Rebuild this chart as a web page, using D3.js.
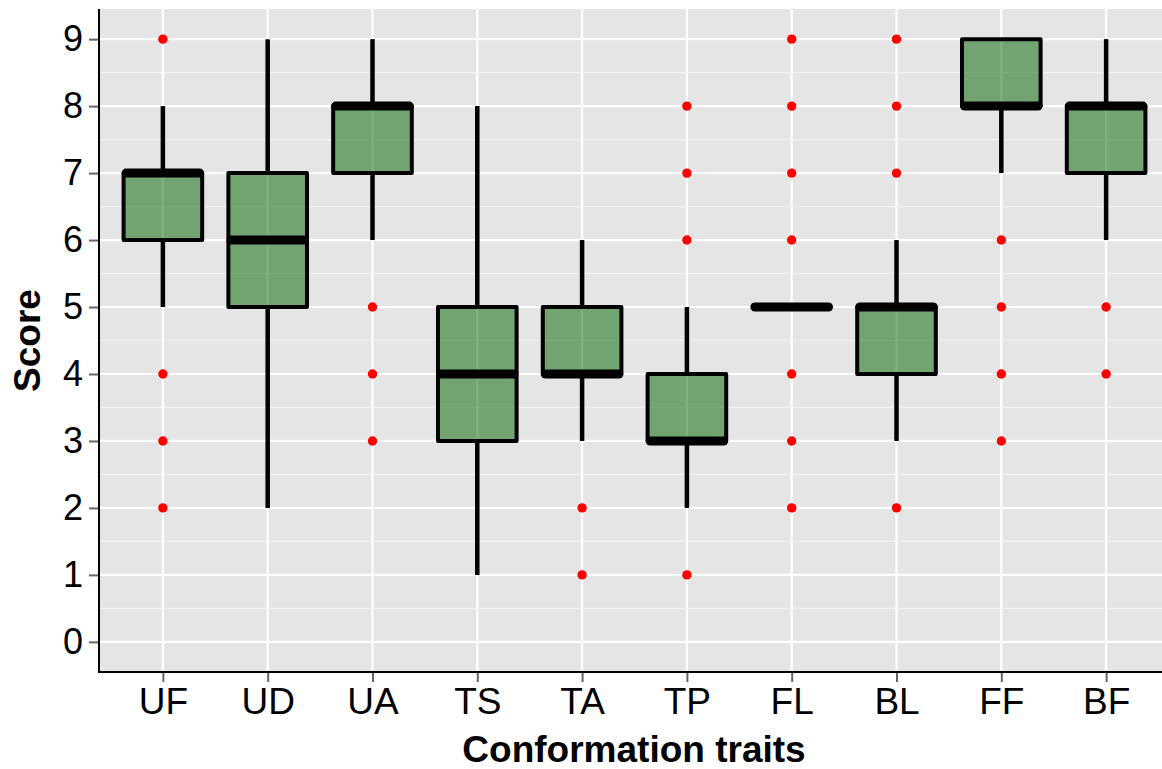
<!DOCTYPE html>
<html>
<head>
<meta charset="utf-8">
<script src="https://cdn.jsdelivr.net/npm/d3@7"></script>
<style>
  body { margin: 0; background: #fff; }
  svg { display: block; font-family: "Liberation Sans", Arial, sans-serif; }
</style>
</head>
<body>
<div id="chart"></div>
<script>
var w = 1162, h = 769;

// data
var traits   = ["UF", "UD", "UA", "TS", "TA", "TP", "FL", "BL", "FF", "BF"];
var lowWhisk = [5, 2, 6, 1, 3, 2, 5, 3, 7, 6];
var q1       = [6, 5, 7, 3, 4, 3, 5, 4, 8, 7];
var medians  = [7, 6, 8, 4, 4, 3, 5, 5, 8, 8];
var q3       = [7, 7, 8, 5, 5, 4, 5, 5, 9, 8];
var hiWhisk  = [8, 9, 9, 8, 6, 5, 5, 6, 9, 9];
var outliers = [
  [9, 4, 3, 2],
  [],
  [5, 4, 3],
  [],
  [2, 1],
  [8, 7, 6, 1],
  [9, 8, 7, 6, 4, 3, 2],
  [9, 8, 7, 2],
  [6, 5, 4, 3],
  [5, 4]
];
var yTicks = [0, 1, 2, 3, 4, 5, 6, 7, 8, 9];

var pLeft = 99, pTop = 9, pBottom = 672, pRight = 1169;

var x = d3.scalePoint().domain(traits).range([pLeft + 1, pRight]).padding(0.6);
var y = d3.scaleLinear().domain([-0.45, 9.45]).range([pBottom, pTop]);
var boxW = x.step() * 0.75;

var svg = d3.select("#chart").append("svg")
    .attr("width", w)
    .attr("height", h)

// panel
svg.append("rect")
    .attr("x", pLeft).attr("y", pTop)
    .attr("width", pRight - pLeft).attr("height", pBottom - pTop)
    .attr("fill", "#e5e5e5")

// minor grid
var minor = d3.range(-0.5, 9.6, 1).filter(function(d){ return y(d) <= pBottom && y(d) >= pTop; });
svg.selectAll(".minor").data(minor).enter().append("line")
    .attr("x1", pLeft).attr("x2", pRight)
    .attr("y1", function(d){ return y(d); })
    .attr("y2", function(d){ return y(d); })
    .attr("stroke", "#f2f2f2").attr("stroke-width", 1.2)

svg.selectAll(".hgrid").data(yTicks).enter().append("line")
    .attr("x1", pLeft).attr("x2", pRight)
    .attr("y1", function(d){ return y(d); })
    .attr("y2", function(d){ return y(d); })
    .attr("stroke", "#fff").attr("stroke-width", 2.2)

svg.selectAll(".vgrid").data(traits).enter().append("line")
    .attr("x1", function(d){ return x(d); })
    .attr("x2", function(d){ return x(d); })
    .attr("y1", pTop).attr("y2", pBottom)
    .attr("stroke", "#fff").attr("stroke-width", 2.2)

var rows = traits.map(function(t, i){
    return {t: t, lo: lowWhisk[i], q1: q1[i], med: medians[i], q3: q3[i], hi: hiWhisk[i], out: outliers[i]};
});

var g = svg.selectAll(".box").data(rows).enter().append("g")

// whiskers
g.append("line")
    .attr("x1", function(d){ return x(d.t); })
    .attr("x2", function(d){ return x(d.t); })
    .attr("y1", function(d){ return y(d.q3); })
    .attr("y2", function(d){ return y(d.hi); })
    .attr("stroke", "#000").attr("stroke-width", 4.5)
g.append("line")
    .attr("x1", function(d){ return x(d.t); })
    .attr("x2", function(d){ return x(d.t); })
    .attr("y1", function(d){ return y(d.q1); })
    .attr("y2", function(d){ return y(d.lo); })
    .attr("stroke", "#000").attr("stroke-width", 4.5)

// boxes
g.append("rect")
    .attr("x", function(d){ return x(d.t) - boxW / 2; })
    .attr("y", function(d){ return y(d.q3); })
    .attr("width", boxW)
    .attr("height", function(d){ return y(d.q1) - y(d.q3); })
    .attr("fill", "darkgreen").attr("fill-opacity", 0.5)
    .attr("stroke", "#000").attr("stroke-width", 4)
    .attr("stroke-linejoin", "round")

// medians
g.append("line")
    .attr("x1", function(d){ return x(d.t) - boxW / 2 + 2.5; })
    .attr("x2", function(d){ return x(d.t) + boxW / 2 - 2.5; })
    .attr("y1", function(d){ return y(d.med); })
    .attr("y2", function(d){ return y(d.med); })
    .attr("stroke", "#000").attr("stroke-width", 9)
    .attr("stroke-linecap", "round")

// outliers
g.each(function(d){
    d3.select(this).selectAll("circle").data(d.out).enter().append("circle")
        .attr("cx", x(d.t))
        .attr("cy", function(v){ return y(v); })
        .attr("r", 4.7)
        .attr("fill", "red")
});

// axes
var yAxis = svg.append("g")
    .attr("transform", "translate(" + pLeft + ",0)")
    .call(d3.axisLeft(y).tickValues(yTicks).tickSize(10).tickPadding(6))
yAxis.select(".domain").remove()
yAxis.selectAll(".tick line").attr("stroke", "#666").attr("stroke-width", 2)
yAxis.selectAll(".tick text").attr("font-size", 36).attr("fill", "#000")
    .attr("font-family", "Liberation Sans, Arial, sans-serif")

var xAxis = svg.append("g")
    .attr("transform", "translate(0," + pBottom + ")")
    .call(d3.axisBottom(x).tickSize(10).tickPadding(6))
xAxis.select(".domain").remove()
xAxis.selectAll(".tick line").attr("stroke", "#666").attr("stroke-width", 2)
xAxis.selectAll(".tick text").attr("font-size", 37).attr("fill", "#000")
    .attr("font-family", "Liberation Sans, Arial, sans-serif")

svg.append("line")
    .attr("x1", pLeft).attr("x2", pLeft)
    .attr("y1", pTop).attr("y2", pBottom + 1)
    .attr("stroke", "#000").attr("stroke-width", 2)
svg.append("line")
    .attr("x1", pLeft).attr("x2", pRight)
    .attr("y1", pBottom).attr("y2", pBottom)
    .attr("stroke", "#000").attr("stroke-width", 2)

// titles
svg.append("text")
    .attr("x", (pLeft + pRight) / 2).attr("y", 762)
    .attr("text-anchor", "middle")
    .attr("font-size", 37).attr("font-weight", "bold")
    .text("Conformation traits")

svg.append("text")
    .attr("transform", "translate(40," + (pTop + pBottom) / 2 + ") rotate(-90)")
    .attr("text-anchor", "middle")
    .attr("font-size", 37).attr("font-weight", "bold")
    .text("Score")
</script>
</body>
</html>
